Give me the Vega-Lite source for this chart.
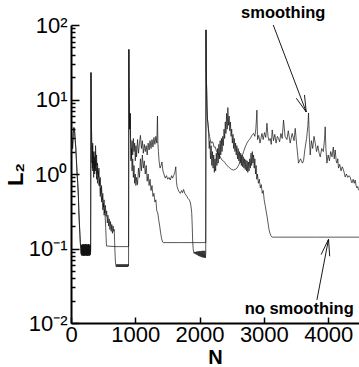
{
 "$schema": "https://vega.github.io/schema/vega-lite/v6.json",
 "width": 288, "height": 298,
 "autosize": {"type": "none"},
 "padding": {"left": 71, "top": 25, "right": 0, "bottom": 44},
 "background": "white",
 "config": {"view": {"stroke": null}, "font": "Liberation Sans"},
 "datasets": {
  "hist": [
   {"s":"no smoothing","N":5,"L":1.8},{"s":"no smoothing","N":15,"L":2.8},{"s":"no smoothing","N":25,"L":2.2},{"s":"no smoothing","N":35,"L":3.5},{"s":"no smoothing","N":45,"L":4.2},{"s":"no smoothing","N":55,"L":3.9},{"s":"no smoothing","N":65,"L":2.9},{"s":"no smoothing","N":75,"L":2.2},{"s":"no smoothing","N":85,"L":1.5},{"s":"no smoothing","N":95,"L":1.0},{"s":"no smoothing","N":105,"L":0.75},{"s":"no smoothing","N":115,"L":0.5},{"s":"no smoothing","N":122,"L":0.32},{"s":"no smoothing","N":130,"L":0.22},{"s":"no smoothing","N":138,"L":0.16},{"s":"no smoothing","N":145,"L":0.12},{"s":"no smoothing","N":152,"L":0.1},
   {"s":"no smoothing","N":158,"L":0.085},{"s":"no smoothing","N":164,"L":0.112},{"s":"no smoothing","N":170,"L":0.08},{"s":"no smoothing","N":176,"L":0.114},{"s":"no smoothing","N":182,"L":0.082},{"s":"no smoothing","N":188,"L":0.11},{"s":"no smoothing","N":194,"L":0.08},{"s":"no smoothing","N":200,"L":0.115},{"s":"no smoothing","N":206,"L":0.081},{"s":"no smoothing","N":212,"L":0.112},{"s":"no smoothing","N":218,"L":0.08},{"s":"no smoothing","N":224,"L":0.114},{"s":"no smoothing","N":230,"L":0.082},{"s":"no smoothing","N":236,"L":0.11},{"s":"no smoothing","N":242,"L":0.08},{"s":"no smoothing","N":248,"L":0.115},{"s":"no smoothing","N":254,"L":0.081},{"s":"no smoothing","N":260,"L":0.112},{"s":"no smoothing","N":266,"L":0.08},{"s":"no smoothing","N":272,"L":0.114},{"s":"no smoothing","N":278,"L":0.082},{"s":"no smoothing","N":284,"L":0.11},{"s":"no smoothing","N":290,"L":0.08},{"s":"no smoothing","N":296,"L":0.113},{"s":"no smoothing","N":302,"L":0.083},{"s":"no smoothing","N":306,"L":0.1},
   {"s":"no smoothing","N":311,"L":23},{"s":"no smoothing","N":315,"L":7},{"s":"no smoothing","N":320,"L":3.2},{"s":"no smoothing","N":326,"L":1.4},{"s":"no smoothing","N":332,"L":2.4},{"s":"no smoothing","N":338,"L":1.1},{"s":"no smoothing","N":345,"L":1.8},{"s":"no smoothing","N":352,"L":0.9},{"s":"no smoothing","N":360,"L":1.5},{"s":"no smoothing","N":368,"L":1.0},{"s":"no smoothing","N":375,"L":2.0},{"s":"no smoothing","N":382,"L":1.1},{"s":"no smoothing","N":390,"L":1.5},{"s":"no smoothing","N":398,"L":0.85},{"s":"no smoothing","N":405,"L":1.2},{"s":"no smoothing","N":412,"L":0.75},{"s":"no smoothing","N":425,"L":1.1},{"s":"no smoothing","N":435,"L":0.7},{"s":"no smoothing","N":445,"L":0.85},{"s":"no smoothing","N":455,"L":0.5},{"s":"no smoothing","N":465,"L":0.65},{"s":"no smoothing","N":475,"L":0.42},{"s":"no smoothing","N":485,"L":0.5},{"s":"no smoothing","N":495,"L":0.33},{"s":"no smoothing","N":505,"L":0.4},{"s":"no smoothing","N":515,"L":0.28},{"s":"no smoothing","N":525,"L":0.33},{"s":"no smoothing","N":533,"L":0.25},{"s":"no smoothing","N":540,"L":0.19},{"s":"no smoothing","N":546,"L":0.14},{"s":"no smoothing","N":552,"L":0.108},{"s":"no smoothing","N":700,"L":0.106},{"s":"no smoothing","N":896,"L":0.106},
   {"s":"no smoothing","N":900,"L":47},{"s":"no smoothing","N":903,"L":16},{"s":"no smoothing","N":906,"L":10},{"s":"no smoothing","N":910,"L":5.5},{"s":"no smoothing","N":915,"L":4.0},{"s":"no smoothing","N":920,"L":6.5},{"s":"no smoothing","N":926,"L":3.0},
   {"s":"no smoothing","N":932,"L":1.5},{"s":"no smoothing","N":940,"L":2.2},{"s":"no smoothing","N":950,"L":1.1},{"s":"no smoothing","N":960,"L":1.6},{"s":"no smoothing","N":970,"L":0.9},{"s":"no smoothing","N":980,"L":1.3},{"s":"no smoothing","N":990,"L":0.75},{"s":"no smoothing","N":1000,"L":1.0},{"s":"no smoothing","N":1010,"L":0.7},{"s":"no smoothing","N":1020,"L":0.9},{"s":"no smoothing","N":1035,"L":0.72},{"s":"no smoothing","N":1050,"L":1.2},{"s":"no smoothing","N":1065,"L":0.9},{"s":"no smoothing","N":1080,"L":1.6},{"s":"no smoothing","N":1095,"L":1.1},{"s":"no smoothing","N":1110,"L":1.8},{"s":"no smoothing","N":1125,"L":1.2},{"s":"no smoothing","N":1140,"L":1.5},{"s":"no smoothing","N":1155,"L":1.0},{"s":"no smoothing","N":1170,"L":1.3},{"s":"no smoothing","N":1185,"L":0.8},{"s":"no smoothing","N":1200,"L":1.0},{"s":"no smoothing","N":1215,"L":0.7},{"s":"no smoothing","N":1230,"L":0.85},{"s":"no smoothing","N":1245,"L":0.6},{"s":"no smoothing","N":1260,"L":0.7},{"s":"no smoothing","N":1275,"L":0.5},{"s":"no smoothing","N":1290,"L":0.55},{"s":"no smoothing","N":1305,"L":0.42},{"s":"no smoothing","N":1320,"L":0.45},{"s":"no smoothing","N":1335,"L":0.32},{"s":"no smoothing","N":1350,"L":0.3},{"s":"no smoothing","N":1365,"L":0.24},{"s":"no smoothing","N":1380,"L":0.2},{"s":"no smoothing","N":1395,"L":0.16},{"s":"no smoothing","N":1410,"L":0.135},{"s":"no smoothing","N":1425,"L":0.122},{"s":"no smoothing","N":1440,"L":0.12},{"s":"no smoothing","N":1700,"L":0.12},{"s":"no smoothing","N":2096,"L":0.12},
   {"s":"no smoothing","N":2100,"L":86},{"s":"no smoothing","N":2103,"L":28},{"s":"no smoothing","N":2106,"L":18},{"s":"no smoothing","N":2110,"L":14},{"s":"no smoothing","N":2116,"L":8},{"s":"no smoothing","N":2122,"L":5.5},{"s":"no smoothing","N":2130,"L":4.8},
   {"s":"no smoothing","N":2140,"L":3.5},{"s":"no smoothing","N":2150,"L":2.2},{"s":"no smoothing","N":2160,"L":2.8},{"s":"no smoothing","N":2170,"L":1.6},{"s":"no smoothing","N":2180,"L":2.4},{"s":"no smoothing","N":2190,"L":1.3},{"s":"no smoothing","N":2200,"L":2.0},{"s":"no smoothing","N":2210,"L":1.2},{"s":"no smoothing","N":2220,"L":1.8},{"s":"no smoothing","N":2230,"L":1.05},{"s":"no smoothing","N":2240,"L":1.6},{"s":"no smoothing","N":2250,"L":1.1},{"s":"no smoothing","N":2260,"L":1.9},{"s":"no smoothing","N":2270,"L":1.3},{"s":"no smoothing","N":2280,"L":2.2},{"s":"no smoothing","N":2290,"L":1.4},{"s":"no smoothing","N":2300,"L":2.5},{"s":"no smoothing","N":2310,"L":1.6},{"s":"no smoothing","N":2320,"L":2.8},{"s":"no smoothing","N":2330,"L":1.8},{"s":"no smoothing","N":2340,"L":3.0},{"s":"no smoothing","N":2350,"L":2.0},{"s":"no smoothing","N":2360,"L":3.2},{"s":"no smoothing","N":2370,"L":2.4},{"s":"no smoothing","N":2380,"L":4.0},{"s":"no smoothing","N":2390,"L":3.0},{"s":"no smoothing","N":2400,"L":5.0},{"s":"no smoothing","N":2410,"L":3.5},{"s":"no smoothing","N":2420,"L":6.5},{"s":"no smoothing","N":2430,"L":4.0},{"s":"no smoothing","N":2440,"L":7.8},{"s":"no smoothing","N":2450,"L":4.5},{"s":"no smoothing","N":2460,"L":6.0},{"s":"no smoothing","N":2470,"L":3.8},{"s":"no smoothing","N":2480,"L":5.0},{"s":"no smoothing","N":2490,"L":3.2},{"s":"no smoothing","N":2500,"L":4.0},{"s":"no smoothing","N":2510,"L":2.6},{"s":"no smoothing","N":2520,"L":3.4},{"s":"no smoothing","N":2530,"L":2.2},{"s":"no smoothing","N":2540,"L":3.0},{"s":"no smoothing","N":2550,"L":2.0},{"s":"no smoothing","N":2560,"L":2.6},{"s":"no smoothing","N":2570,"L":1.8},{"s":"no smoothing","N":2580,"L":2.4},{"s":"no smoothing","N":2590,"L":1.6},{"s":"no smoothing","N":2600,"L":2.2},{"s":"no smoothing","N":2610,"L":1.5},{"s":"no smoothing","N":2620,"L":2.0},{"s":"no smoothing","N":2630,"L":1.4},{"s":"no smoothing","N":2640,"L":1.9},{"s":"no smoothing","N":2650,"L":1.3},{"s":"no smoothing","N":2660,"L":1.8},{"s":"no smoothing","N":2670,"L":1.25},{"s":"no smoothing","N":2680,"L":1.7},{"s":"no smoothing","N":2690,"L":1.2},{"s":"no smoothing","N":2700,"L":1.6},{"s":"no smoothing","N":2710,"L":1.15},{"s":"no smoothing","N":2720,"L":1.55},{"s":"no smoothing","N":2730,"L":1.1},{"s":"no smoothing","N":2740,"L":1.5},{"s":"no smoothing","N":2750,"L":1.05},{"s":"no smoothing","N":2760,"L":1.45},{"s":"no smoothing","N":2770,"L":1.1},{"s":"no smoothing","N":2780,"L":1.6},{"s":"no smoothing","N":2790,"L":1.2},{"s":"no smoothing","N":2800,"L":1.9},{"s":"no smoothing","N":2810,"L":1.3},{"s":"no smoothing","N":2820,"L":2.0},{"s":"no smoothing","N":2830,"L":1.4},{"s":"no smoothing","N":2840,"L":1.8},{"s":"no smoothing","N":2850,"L":1.2},{"s":"no smoothing","N":2860,"L":1.6},{"s":"no smoothing","N":2870,"L":1.0},{"s":"no smoothing","N":2880,"L":1.3},{"s":"no smoothing","N":2890,"L":0.85},{"s":"no smoothing","N":2900,"L":1.0},{"s":"no smoothing","N":2915,"L":0.75},{"s":"no smoothing","N":2930,"L":0.85},{"s":"no smoothing","N":2945,"L":0.65},{"s":"no smoothing","N":2960,"L":0.72},{"s":"no smoothing","N":2975,"L":0.55},{"s":"no smoothing","N":2990,"L":0.6},{"s":"no smoothing","N":3005,"L":0.45},{"s":"no smoothing","N":3020,"L":0.38},{"s":"no smoothing","N":3035,"L":0.32},{"s":"no smoothing","N":3050,"L":0.27},{"s":"no smoothing","N":3065,"L":0.22},{"s":"no smoothing","N":3080,"L":0.18},{"s":"no smoothing","N":3095,"L":0.16},{"s":"no smoothing","N":3110,"L":0.148},{"s":"no smoothing","N":3130,"L":0.142},{"s":"no smoothing","N":3800,"L":0.142},{"s":"no smoothing","N":4480,"L":0.142},

   {"s":"smoothing","N":5,"L":1.8},{"s":"smoothing","N":15,"L":2.8},{"s":"smoothing","N":25,"L":2.2},{"s":"smoothing","N":35,"L":3.5},{"s":"smoothing","N":45,"L":4.2},{"s":"smoothing","N":55,"L":3.9},{"s":"smoothing","N":65,"L":2.9},{"s":"smoothing","N":75,"L":2.2},{"s":"smoothing","N":85,"L":1.5},{"s":"smoothing","N":95,"L":1.0},{"s":"smoothing","N":105,"L":0.75},{"s":"smoothing","N":115,"L":0.5},{"s":"smoothing","N":122,"L":0.32},{"s":"smoothing","N":130,"L":0.22},{"s":"smoothing","N":138,"L":0.16},{"s":"smoothing","N":145,"L":0.12},{"s":"smoothing","N":152,"L":0.1},
   {"s":"smoothing","N":161,"L":0.083},{"s":"smoothing","N":167,"L":0.11},{"s":"smoothing","N":173,"L":0.081},{"s":"smoothing","N":179,"L":0.113},{"s":"smoothing","N":185,"L":0.08},{"s":"smoothing","N":191,"L":0.112},{"s":"smoothing","N":197,"L":0.082},{"s":"smoothing","N":203,"L":0.114},{"s":"smoothing","N":209,"L":0.08},{"s":"smoothing","N":215,"L":0.111},{"s":"smoothing","N":221,"L":0.081},{"s":"smoothing","N":227,"L":0.115},{"s":"smoothing","N":233,"L":0.08},{"s":"smoothing","N":239,"L":0.112},{"s":"smoothing","N":245,"L":0.082},{"s":"smoothing","N":251,"L":0.113},{"s":"smoothing","N":257,"L":0.08},{"s":"smoothing","N":263,"L":0.11},{"s":"smoothing","N":269,"L":0.081},{"s":"smoothing","N":275,"L":0.114},{"s":"smoothing","N":281,"L":0.08},{"s":"smoothing","N":287,"L":0.112},{"s":"smoothing","N":293,"L":0.082},{"s":"smoothing","N":299,"L":0.11},{"s":"smoothing","N":305,"L":0.09},
   {"s":"smoothing","N":311,"L":23},{"s":"smoothing","N":315,"L":7},{"s":"smoothing","N":320,"L":3.6},{"s":"smoothing","N":326,"L":2.0},{"s":"smoothing","N":332,"L":1.2},{"s":"smoothing","N":338,"L":2.6},{"s":"smoothing","N":345,"L":1.3},{"s":"smoothing","N":352,"L":2.0},{"s":"smoothing","N":360,"L":1.1},{"s":"smoothing","N":368,"L":1.7},{"s":"smoothing","N":375,"L":1.2},{"s":"smoothing","N":382,"L":2.4},{"s":"smoothing","N":390,"L":1.3},{"s":"smoothing","N":398,"L":1.8},{"s":"smoothing","N":405,"L":1.0},{"s":"smoothing","N":412,"L":1.4},{"s":"smoothing","N":425,"L":0.9},{"s":"smoothing","N":435,"L":1.2},{"s":"smoothing","N":445,"L":0.7},{"s":"smoothing","N":455,"L":0.9},{"s":"smoothing","N":465,"L":0.55},{"s":"smoothing","N":475,"L":0.7},{"s":"smoothing","N":485,"L":0.45},{"s":"smoothing","N":495,"L":0.55},{"s":"smoothing","N":505,"L":0.36},{"s":"smoothing","N":515,"L":0.45},{"s":"smoothing","N":525,"L":0.3},{"s":"smoothing","N":535,"L":0.38},{"s":"smoothing","N":545,"L":0.27},{"s":"smoothing","N":555,"L":0.32},{"s":"smoothing","N":565,"L":0.22},{"s":"smoothing","N":575,"L":0.28},{"s":"smoothing","N":585,"L":0.2},{"s":"smoothing","N":595,"L":0.25},{"s":"smoothing","N":605,"L":0.18},{"s":"smoothing","N":615,"L":0.23},{"s":"smoothing","N":625,"L":0.17},{"s":"smoothing","N":635,"L":0.21},{"s":"smoothing","N":645,"L":0.16},{"s":"smoothing","N":655,"L":0.2},{"s":"smoothing","N":665,"L":0.17},{"s":"smoothing","N":672,"L":0.18},{"s":"smoothing","N":678,"L":0.13},{"s":"smoothing","N":684,"L":0.09},{"s":"smoothing","N":690,"L":0.068},{"s":"smoothing","N":698,"L":0.059},
   {"s":"smoothing","N":705,"L":0.0565},{"s":"smoothing","N":713,"L":0.0615},{"s":"smoothing","N":721,"L":0.0565},{"s":"smoothing","N":729,"L":0.0615},{"s":"smoothing","N":737,"L":0.0565},{"s":"smoothing","N":745,"L":0.0615},{"s":"smoothing","N":753,"L":0.0565},{"s":"smoothing","N":761,"L":0.0615},{"s":"smoothing","N":769,"L":0.0565},{"s":"smoothing","N":777,"L":0.0615},{"s":"smoothing","N":785,"L":0.0565},{"s":"smoothing","N":793,"L":0.0615},{"s":"smoothing","N":801,"L":0.0565},{"s":"smoothing","N":809,"L":0.0615},{"s":"smoothing","N":817,"L":0.0565},{"s":"smoothing","N":825,"L":0.0615},{"s":"smoothing","N":833,"L":0.0565},{"s":"smoothing","N":841,"L":0.0615},{"s":"smoothing","N":849,"L":0.0565},{"s":"smoothing","N":857,"L":0.0615},{"s":"smoothing","N":865,"L":0.0565},{"s":"smoothing","N":873,"L":0.0615},{"s":"smoothing","N":881,"L":0.0565},{"s":"smoothing","N":889,"L":0.0615},{"s":"smoothing","N":895,"L":0.058},
   {"s":"smoothing","N":900,"L":47},{"s":"smoothing","N":903,"L":16},{"s":"smoothing","N":906,"L":10},{"s":"smoothing","N":910,"L":5.5},{"s":"smoothing","N":915,"L":4.0},{"s":"smoothing","N":920,"L":6.5},{"s":"smoothing","N":926,"L":3.0},
   {"s":"smoothing","N":932,"L":2.5},{"s":"smoothing","N":940,"L":1.6},{"s":"smoothing","N":950,"L":2.8},{"s":"smoothing","N":960,"L":1.8},{"s":"smoothing","N":970,"L":3.0},{"s":"smoothing","N":980,"L":2.0},{"s":"smoothing","N":990,"L":2.6},{"s":"smoothing","N":1000,"L":1.5},{"s":"smoothing","N":1010,"L":2.4},{"s":"smoothing","N":1020,"L":1.7},{"s":"smoothing","N":1035,"L":2.9},{"s":"smoothing","N":1050,"L":1.9},{"s":"smoothing","N":1065,"L":2.6},{"s":"smoothing","N":1080,"L":3.3},{"s":"smoothing","N":1095,"L":2.2},{"s":"smoothing","N":1110,"L":2.8},{"s":"smoothing","N":1125,"L":1.9},{"s":"smoothing","N":1140,"L":2.5},{"s":"smoothing","N":1155,"L":2.0},{"s":"smoothing","N":1170,"L":2.4},{"s":"smoothing","N":1185,"L":1.8},{"s":"smoothing","N":1200,"L":2.6},{"s":"smoothing","N":1215,"L":2.1},{"s":"smoothing","N":1230,"L":2.8},{"s":"smoothing","N":1245,"L":2.2},{"s":"smoothing","N":1260,"L":2.9},{"s":"smoothing","N":1275,"L":2.3},{"s":"smoothing","N":1290,"L":3.1},{"s":"smoothing","N":1305,"L":2.5},{"s":"smoothing","N":1320,"L":3.2},{"s":"smoothing","N":1335,"L":2.6},{"s":"smoothing","N":1345,"L":6.0},{"s":"smoothing","N":1352,"L":2.6},{"s":"smoothing","N":1360,"L":2.0},{"s":"smoothing","N":1370,"L":1.5},{"s":"smoothing","N":1385,"L":1.2},{"s":"smoothing","N":1400,"L":1.3},{"s":"smoothing","N":1415,"L":1.45},{"s":"smoothing","N":1430,"L":1.1},{"s":"smoothing","N":1445,"L":1.0},{"s":"smoothing","N":1466,"L":0.88},{"s":"smoothing","N":1485,"L":0.95},{"s":"smoothing","N":1505,"L":0.85},{"s":"smoothing","N":1525,"L":0.9},{"s":"smoothing","N":1544,"L":0.83},{"s":"smoothing","N":1565,"L":0.95},{"s":"smoothing","N":1580,"L":0.88},{"s":"smoothing","N":1596,"L":0.95},{"s":"smoothing","N":1615,"L":1.05},{"s":"smoothing","N":1630,"L":1.25},{"s":"smoothing","N":1640,"L":0.8},{"s":"smoothing","N":1650,"L":0.68},{"s":"smoothing","N":1665,"L":0.62},{"s":"smoothing","N":1680,"L":0.58},{"s":"smoothing","N":1700,"L":0.55},{"s":"smoothing","N":1720,"L":0.6},{"s":"smoothing","N":1735,"L":0.56},{"s":"smoothing","N":1751,"L":0.62},{"s":"smoothing","N":1770,"L":0.55},{"s":"smoothing","N":1790,"L":0.52},{"s":"smoothing","N":1804,"L":0.5},{"s":"smoothing","N":1820,"L":0.47},{"s":"smoothing","N":1840,"L":0.45},{"s":"smoothing","N":1855,"L":0.42},{"s":"smoothing","N":1868,"L":0.36},{"s":"smoothing","N":1878,"L":0.3},{"s":"smoothing","N":1886,"L":0.2},{"s":"smoothing","N":1892,"L":0.13},{"s":"smoothing","N":1900,"L":0.1},{"s":"smoothing","N":1908,"L":0.09},
   {"s":"smoothing","N":1915,"L":0.086},{"s":"smoothing","N":1923,"L":0.09},{"s":"smoothing","N":1931,"L":0.085},{"s":"smoothing","N":1939,"L":0.09},{"s":"smoothing","N":1947,"L":0.083},{"s":"smoothing","N":1955,"L":0.091},{"s":"smoothing","N":1963,"L":0.082},{"s":"smoothing","N":1971,"L":0.091},{"s":"smoothing","N":1979,"L":0.08},{"s":"smoothing","N":1987,"L":0.092},{"s":"smoothing","N":1995,"L":0.079},{"s":"smoothing","N":2003,"L":0.092},{"s":"smoothing","N":2011,"L":0.078},{"s":"smoothing","N":2019,"L":0.092},{"s":"smoothing","N":2027,"L":0.077},{"s":"smoothing","N":2035,"L":0.093},{"s":"smoothing","N":2043,"L":0.076},{"s":"smoothing","N":2051,"L":0.093},{"s":"smoothing","N":2059,"L":0.076},{"s":"smoothing","N":2067,"L":0.093},{"s":"smoothing","N":2075,"L":0.075},{"s":"smoothing","N":2083,"L":0.093},{"s":"smoothing","N":2091,"L":0.075},{"s":"smoothing","N":2096,"L":0.085},
   {"s":"smoothing","N":2100,"L":86},{"s":"smoothing","N":2103,"L":28},{"s":"smoothing","N":2106,"L":18},{"s":"smoothing","N":2110,"L":14},{"s":"smoothing","N":2116,"L":8},{"s":"smoothing","N":2122,"L":5.5},{"s":"smoothing","N":2130,"L":4.8},
   {"s":"smoothing","N":2140,"L":3.9},{"s":"smoothing","N":2155,"L":3.2},{"s":"smoothing","N":2166,"L":2.9},{"s":"smoothing","N":2185,"L":2.6},{"s":"smoothing","N":2205,"L":2.7},{"s":"smoothing","N":2225,"L":2.3},{"s":"smoothing","N":2244,"L":2.3},{"s":"smoothing","N":2265,"L":2.0},{"s":"smoothing","N":2285,"L":1.9},{"s":"smoothing","N":2305,"L":1.8},{"s":"smoothing","N":2322,"L":1.7},{"s":"smoothing","N":2345,"L":1.55},{"s":"smoothing","N":2370,"L":1.5},{"s":"smoothing","N":2400,"L":1.4},{"s":"smoothing","N":2425,"L":1.3},{"s":"smoothing","N":2450,"L":1.25},{"s":"smoothing","N":2477,"L":1.19},{"s":"smoothing","N":2500,"L":1.15},{"s":"smoothing","N":2529,"L":1.13},{"s":"smoothing","N":2555,"L":1.15},{"s":"smoothing","N":2582,"L":1.2},{"s":"smoothing","N":2605,"L":1.3},{"s":"smoothing","N":2633,"L":1.46},{"s":"smoothing","N":2660,"L":1.7},{"s":"smoothing","N":2685,"L":2.0},{"s":"smoothing","N":2710,"L":2.3},{"s":"smoothing","N":2737,"L":2.6},{"s":"smoothing","N":2760,"L":2.8},{"s":"smoothing","N":2788,"L":3.0},{"s":"smoothing","N":2815,"L":3.3},{"s":"smoothing","N":2840,"L":3.5},{"s":"smoothing","N":2860,"L":3.2},{"s":"smoothing","N":2875,"L":4.0},{"s":"smoothing","N":2885,"L":5.5},{"s":"smoothing","N":2892,"L":7.2},{"s":"smoothing","N":2902,"L":2.9},{"s":"smoothing","N":2920,"L":3.3},{"s":"smoothing","N":2940,"L":2.6},{"s":"smoothing","N":2970,"L":3.5},{"s":"smoothing","N":2990,"L":2.9},{"s":"smoothing","N":3010,"L":3.6},{"s":"smoothing","N":3030,"L":3.1},{"s":"smoothing","N":3048,"L":4.8},{"s":"smoothing","N":3065,"L":3.2},{"s":"smoothing","N":3080,"L":2.8},{"s":"smoothing","N":3099,"L":3.0},{"s":"smoothing","N":3115,"L":2.5},{"s":"smoothing","N":3130,"L":3.9},{"s":"smoothing","N":3150,"L":2.8},{"s":"smoothing","N":3170,"L":3.4},{"s":"smoothing","N":3190,"L":2.6},{"s":"smoothing","N":3210,"L":3.2},{"s":"smoothing","N":3228,"L":3.0},{"s":"smoothing","N":3245,"L":2.7},{"s":"smoothing","N":3265,"L":3.5},{"s":"smoothing","N":3285,"L":3.0},{"s":"smoothing","N":3306,"L":5.3},{"s":"smoothing","N":3330,"L":3.2},{"s":"smoothing","N":3359,"L":2.9},{"s":"smoothing","N":3380,"L":3.8},{"s":"smoothing","N":3410,"L":2.6},{"s":"smoothing","N":3440,"L":3.5},{"s":"smoothing","N":3470,"L":2.8},{"s":"smoothing","N":3488,"L":4.1},{"s":"smoothing","N":3510,"L":2.5},{"s":"smoothing","N":3539,"L":1.4},{"s":"smoothing","N":3570,"L":1.6},{"s":"smoothing","N":3600,"L":1.4},{"s":"smoothing","N":3617,"L":1.5},{"s":"smoothing","N":3640,"L":2.2},{"s":"smoothing","N":3665,"L":3.0},{"s":"smoothing","N":3685,"L":4.5},{"s":"smoothing","N":3695,"L":6.6},{"s":"smoothing","N":3705,"L":3.5},{"s":"smoothing","N":3721,"L":1.8},{"s":"smoothing","N":3740,"L":2.8},{"s":"smoothing","N":3760,"L":2.2},{"s":"smoothing","N":3780,"L":3.2},{"s":"smoothing","N":3799,"L":2.6},{"s":"smoothing","N":3820,"L":2.0},{"s":"smoothing","N":3840,"L":2.4},{"s":"smoothing","N":3860,"L":1.9},{"s":"smoothing","N":3877,"L":1.7},{"s":"smoothing","N":3900,"L":2.2},{"s":"smoothing","N":3925,"L":2.0},{"s":"smoothing","N":3945,"L":3.0},{"s":"smoothing","N":3954,"L":4.3},{"s":"smoothing","N":3965,"L":2.2},{"s":"smoothing","N":3981,"L":1.4},{"s":"smoothing","N":4000,"L":1.8},{"s":"smoothing","N":4020,"L":1.5},{"s":"smoothing","N":4040,"L":2.0},{"s":"smoothing","N":4060,"L":1.7},{"s":"smoothing","N":4080,"L":2.3},{"s":"smoothing","N":4095,"L":1.6},{"s":"smoothing","N":4110,"L":2.1},{"s":"smoothing","N":4125,"L":1.5},{"s":"smoothing","N":4136,"L":1.4},{"s":"smoothing","N":4150,"L":1.6},{"s":"smoothing","N":4161,"L":1.2},{"s":"smoothing","N":4180,"L":1.35},{"s":"smoothing","N":4200,"L":1.1},{"s":"smoothing","N":4220,"L":1.25},{"s":"smoothing","N":4239,"L":1.13},{"s":"smoothing","N":4255,"L":1.0},{"s":"smoothing","N":4265,"L":0.91},{"s":"smoothing","N":4285,"L":1.0},{"s":"smoothing","N":4305,"L":0.9},{"s":"smoothing","N":4325,"L":0.95},{"s":"smoothing","N":4343,"L":0.91},{"s":"smoothing","N":4360,"L":0.8},{"s":"smoothing","N":4370,"L":0.76},{"s":"smoothing","N":4390,"L":0.85},{"s":"smoothing","N":4405,"L":0.75},{"s":"smoothing","N":4421,"L":0.83},{"s":"smoothing","N":4435,"L":0.7},{"s":"smoothing","N":4447,"L":0.65},{"s":"smoothing","N":4460,"L":0.68},{"s":"smoothing","N":4472,"L":0.61},{"s":"smoothing","N":4480,"L":0.6}
  ],
  "notes": [
   {"label": "smoothing", "N": 3301, "L": 123},
   {"label": "no smoothing", "N": 3550, "L": 0.0131}
  ],
  "arrows": [
   {"N": 3146, "L": 100, "N2": 3659, "L2": 6.8},
   {"N": 3659, "L": 6.8, "N2": 3632, "L2": 11.5},
   {"N": 3659, "L": 6.8, "N2": 3505, "L2": 10.4},
   {"N": 3825, "L": 0.0204, "N2": 4006, "L2": 0.133},
   {"N": 4006, "L": 0.133, "N2": 3891, "L2": 0.0828},
   {"N": 4006, "L": 0.133, "N2": 4024, "L2": 0.0786}
  ]
 },
 "encoding": {
  "x": {"field": "N", "type": "quantitative",
   "scale": {"domain": [0, 4480], "nice": false, "zero": false},
   "axis": {"values": [0, 1000, 2000, 3000, 4000], "format": "d", "grid": false,
    "domainColor": "black", "domainWidth": 2, "tickColor": "black", "tickWidth": 1.5, "tickSize": -6,
    "labelFont": "Liberation Sans", "labelFontSize": 22, "labelColor": "black", "labelPadding": 7,
    "labelFlush": false, "labelOverlap": false,
    "title": "N", "titleFont": "Liberation Sans", "titleFontSize": 20, "titleFontWeight": "bold", "titleColor": "black",
    "titleX": 144, "titleY": 40, "titleBaseline": "alphabetic", "titleAlign": "center"}},
  "y": {"field": "L", "type": "quantitative",
   "scale": {"type": "log", "domain": [0.01, 100], "nice": false},
   "axis": {"values": [0.01,0.02,0.03,0.04,0.05,0.06,0.07,0.08,0.09,0.1,0.2,0.3,0.4,0.5,0.6,0.7,0.8,0.9,1,2,3,4,5,6,7,8,9,10,20,30,40,50,60,70,80,90,100],
    "labelExpr": "datum.value==100?'10\u00b2':datum.value==10?'10\u00b9':datum.value==1?'10\u2070':datum.value==0.1?'10\u207b\u00b9':datum.value==0.01?'10\u207b\u00b2':''",
    "grid": false, "domainColor": "black", "domainWidth": 2, "tickColor": "black", "tickWidth": 1.5,
    "tickSize": {"condition": {"test": "datum.value==0.01||datum.value==0.1||datum.value==1||datum.value==10||datum.value==100", "value": -8}, "value": -4},
    "labelFont": "Liberation Sans", "labelFontSize": 22, "labelColor": "black", "labelPadding": 12,
    "labelFlush": false, "labelOverlap": false,
    "title": "L\u2082", "titleFont": "Liberation Sans", "titleFontSize": 22, "titleFontWeight": "bold", "titleColor": "black",
    "titleX": -49, "titleY": 149, "titleBaseline": "alphabetic", "titleAlign": "center", "titleAngle": 270}}
 },
 "layer": [
  {"data": {"name": "hist"}, "mark": {"type": "line", "color": "#111111", "strokeWidth": 0.7},
   "encoding": {"detail": {"field": "s", "type": "nominal"}}},
  {"data": {"name": "arrows"}, "mark": {"type": "rule", "color": "black", "strokeWidth": 0.9},
   "encoding": {"x2": {"field": "N2"}, "y2": {"field": "L2"}}},
  {"data": {"name": "notes"}, "mark": {"type": "text", "font": "Liberation Sans", "fontSize": 16.5, "fontWeight": "bold", "align": "center", "baseline": "alphabetic", "color": "black"},
   "encoding": {"text": {"field": "label", "type": "nominal"}}}
 ]
}
